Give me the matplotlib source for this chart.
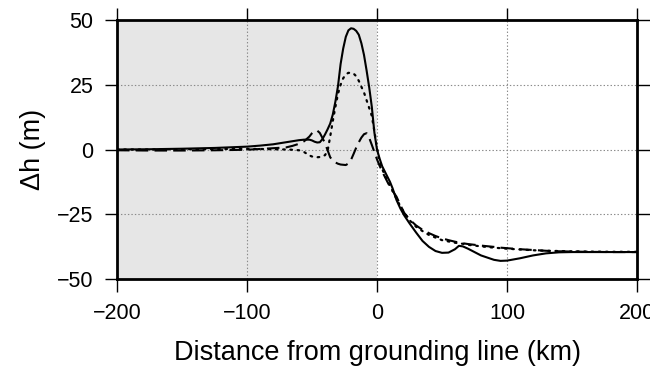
import matplotlib
matplotlib.use("Agg")
import matplotlib.pyplot as plt
from matplotlib.patches import Rectangle

plt.rcParams['font.family'] = ['Liberation Sans', 'DejaVu Sans']
plt.rcParams['lines.scale_dashes'] = False

distance_km = [-200, -175, -150, -125, -100, -90, -80, -70, -65, -60, -56, -52, -50, -48, -46,
               -44, -42, -40, -38, -36, -34, -32, -30, -28, -26, -24, -22, -20, -18, -16,
               -14, -12, -10, -8, -6, -4, -2, 0, 2, 4, 6, 8, 10, 12, 15,
               18, 21, 25, 30, 35, 40, 45, 50, 55, 60, 63, 66, 70, 75, 80,
               90, 95, 100, 110, 120, 130, 140, 150, 160, 180, 200]

dh_solid = [0.0, 0.1, 0.3, 0.6, 1.1, 1.5, 2.0, 2.8, 3.2, 3.6, 3.8, 3.8, 3.5, 3.0, 2.7,
            2.8, 4.0, 5.8, 7.8, 10.0, 13.5, 18.5, 24.5, 33.0, 39.0, 43.5, 46.0, 46.8, 46.6, 45.8,
            44.3, 41.0, 36.5, 30.5, 24.0, 16.5, 6.5, 0.0, -3.5, -6.5, -8.5, -10.5, -12.5, -15.0, -19.5,
            -22.8, -25.5, -28.5, -32.0, -35.3, -37.6, -39.2, -39.9, -39.8, -38.5, -37.2, -37.4, -38.3, -39.6, -40.9,
            -42.6, -43.0, -42.9, -42.0, -40.9, -40.1, -39.7, -39.6, -39.6, -39.6, -39.6]

dh_dotted = [0.0, 0.0, 0.1, 0.2, 0.2, 0.2, 0.1, 0.0, -0.1, -0.3, -1.0, -2.3, -2.7, -2.9, -3.0,
             -2.9, -2.6, -2.2, -0.5, 5.0, 11.0, 16.5, 21.5, 25.0, 27.5, 29.0, 29.6, 29.6, 29.3, 28.3,
             26.5, 24.2, 22.0, 19.0, 16.0, 13.0, 7.0, 0.5, -4.5, -7.5, -10.0, -12.0, -14.0, -16.0, -19.0,
             -22.0, -24.5, -27.3, -29.8, -31.5, -33.0, -34.0, -35.0, -35.5, -36.0, -36.2, -36.4, -36.8, -37.1, -37.4,
             -37.9, -38.1, -38.3, -38.6, -38.9, -39.1, -39.2, -39.3, -39.4, -39.5, -39.5]

dh_dashed = [-0.3, -0.4, -0.4, -0.3, -0.1, 0.2, 0.5, 0.8, 1.4, 2.2, 3.2, 5.0, 6.3, 7.3, 7.3,
             6.4, 4.5, 2.4, -0.3, -3.0, -4.3, -5.0, -5.5, -5.8, -5.9, -6.0, -5.4, -4.0, -1.7, 0.7,
             2.8, 4.6, 5.9, 6.3, 4.5, 1.8, -1.0, -3.8, -6.3, -8.5, -10.5, -12.5, -14.4, -16.0, -18.2,
             -21.5, -24.5, -27.0, -29.3, -31.0, -32.3, -33.4, -34.3, -35.0, -35.6, -35.9, -36.2, -36.5, -36.8, -37.1,
             -37.6, -37.9, -38.1, -38.5, -38.8, -39.1, -39.3, -39.4, -39.5, -39.6, -39.6]

x_ticks = [-200, -100, 0, 100, 200]
y_ticks = [-50, -25, 0, 25, 50]
grounded_span = (-200, 0)

fig = plt.figure(figsize=(6.72, 3.72), dpi=100)
ax = fig.add_axes([117/672, 1-279/372, (637-117)/672, (279-20)/372])

ax.axvspan(grounded_span[0], grounded_span[1], color='#e6e6e6', zorder=0, lw=0)
for xv in x_ticks[1:-1]:
    ax.axvline(xv, color='#8a8a8a', lw=0.8, ls=(0, (1, 1.5)), zorder=1)
for yv in y_ticks[1:-1]:
    ax.axhline(yv, color='#8a8a8a', lw=0.8, ls=(0, (1, 1.5)), zorder=1)

ax.plot(distance_km, dh_solid, color='black', lw=1.5, zorder=3, solid_joinstyle='round')
ax.plot(distance_km, dh_dotted, color='black', lw=1.6, ls=(0, (1.2, 4.0)),
        dash_capstyle='round', zorder=3)
ax.plot(distance_km, dh_dashed, color='black', lw=1.5, ls=(0, (9.0, 4.5)), zorder=3)

ax.set_xlim(-200, 200)
ax.set_ylim(-50, 50)
ax.set_xticks(x_ticks)
ax.set_yticks(y_ticks)
ax.tick_params(direction='out', length=9, width=1.0, top=True, right=True,
               labelsize=15.5, pad=8, color='black')
for s in ax.spines.values():
    s.set_linewidth(2.0)
    s.set_capstyle('projecting')
    s.set_zorder(5)

ax.set_xlabel('Distance from grounding line (km)', fontsize=19.5, labelpad=12)
ax.set_ylabel('\u0394h (m)', fontsize=19.5, labelpad=7.5)

fig.patches.append(Rectangle((650/672, 0), 22/672, 1, transform=fig.transFigure,
                             facecolor='white', edgecolor='none', zorder=10))

fig.savefig('out.png', dpi=100)
